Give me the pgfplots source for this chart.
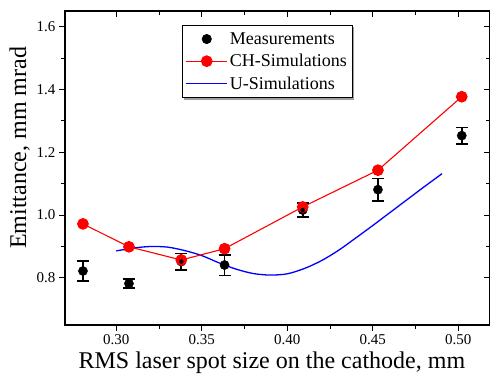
\documentclass[border=0pt]{standalone}
\usepackage{fontspec}
\setmainfont{Liberation Serif}
\usepackage{pgfplots}
\usepackage{pgfplotstable}
\pgfplotsset{compat=1.18}

\pgfplotsset{
  legpt/.style={legend image code/.code={\draw[##1] plot coordinates {(20.5pt,0pt)};}},
  legred/.style={legend image code/.code={\draw[mark repeat=2,mark phase=2,##1,line width=1.1pt] plot coordinates {(0pt,0pt) (20.5pt,0pt) (41pt,0pt)};}},
  legblue/.style={legend image code/.code={\draw[##1,line width=1.4pt] plot coordinates {(0pt,0pt) (41pt,0pt)};}},
}

\pgfplotstableread{
x y err
0.2805 0.822 0.032
0.3074 0.782 0.015
0.3380 0.852 0.026
0.3633 0.841 0.033
0.4090 1.016 0.023
0.4530 1.081 0.036
0.5020 1.253 0.026
}\meas

\pgfplotstableread{
x y
0.2805 0.972
0.3074 0.899
0.3380 0.857
0.3633 0.893
0.4090 1.026
0.4530 1.143
0.5020 1.377
}\chsim

\pgfplotstableread{
x y
0.300 0.886
0.310 0.895
0.320 0.900
0.330 0.898
0.340 0.887
0.350 0.871
0.360 0.848
0.370 0.828
0.380 0.814
0.390 0.809
0.400 0.813
0.410 0.830
0.420 0.855
0.430 0.888
0.440 0.927
0.450 0.967
0.460 1.008
0.470 1.049
0.480 1.090
0.4905 1.132
}\usim

\begin{document}
\begin{tikzpicture}
\pgfplotsset{
  common/.style={
    at={(0pt,0pt)}, anchor=south west,
    scale only axis, width=424.8pt, height=314pt,
    xmin=0.27, xmax=0.5184, ymin=0.65, ymax=1.65,
    xtick={0.30,0.35,0.40,0.45,0.50},
    ytick={0.8,1.0,1.2,1.4,1.6},
    minor x tick num=1, minor y tick num=1,
    axis line style={line width=1.2pt},
    major tick length=6pt, minor tick length=4pt,
    every tick/.style={black, line width=1pt},
  }
}
\begin{axis}[common,
  tick align=outside,
  xtick pos=left, ytick pos=left,
  /pgf/number format/assume math mode=true,
  tick label style={font=\fontsize{15}{18}\selectfont},
  xticklabel style={/pgf/number format/.cd, fixed, fixed zerofill, precision=2},
  yticklabel style={/pgf/number format/.cd, fixed, fixed zerofill, precision=1},
  xlabel={RMS laser spot size on the cathode, mm},
  ylabel={Emittance, mm mrad},
  label style={font=\fontsize{24}{28}\selectfont},
  xlabel style={at={(axis description cs:0.487,-0.1401)}, anchor=base},
  ylabel style={at={(axis description cs:-0.0918,0.564)}, anchor=base},
  legend style={name=leg, at={(axis description cs:0.2746,0.9554)}, anchor=north west,
    draw=black, line width=0.8pt, font=\fontsize{18}{20}\selectfont,
    inner xsep=3.5pt, inner ysep=5pt, row sep=4.5pt,
    cells={anchor=west}},
]
\addlegendimage{black, only marks, mark=*, mark size=4.6pt, legpt}
\addlegendentry{Measurements}
\addlegendimage{red, mark=*, mark size=5.3pt, mark options={fill=red, draw=red}, legred}
\addlegendentry{CH-Simulations}
\addlegendimage{blue, legblue}
\addlegendentry{U-Simulations}

\addplot[forget plot, black, only marks, mark=*, mark size=4.6pt] table[x=x, y=y] {\meas};
\addplot[forget plot, blue, line width=1.3pt, smooth, tension=0.5, mark=none] table[x=x, y=y] {\usim};
\addplot[forget plot, red, line width=1.1pt, mark=*, mark size=5.3pt, mark options={fill=red, draw=red}] table[x=x, y=y] {\chsim};
\addplot[forget plot, black, only marks, mark=none,
  error bars/.cd, y dir=both, y explicit,
  error bar style={line width=1.7pt, black},
  error mark options={rotate=90, mark size=6pt, line width=1.7pt, black}]
  table[x=x, y=y, y error=err] {\meas};
\end{axis}
\draw[gray!75, line width=1.6pt]
  ([shift={(2.5pt,-0.8pt)}]leg.south west) -- ([shift={(0.8pt,-0.8pt)}]leg.south east)
  -- ([shift={(0.8pt,-2.5pt)}]leg.north east);
\begin{axis}[common,
  tick align=inside,
  xtick pos=right, ytick pos=right,
  xticklabels={}, yticklabels={},
]
\end{axis}
\pgfresetboundingbox
\useasboundingbox (-65pt,-49pt) rectangle (426pt,325pt);
\end{tikzpicture}
\end{document}
